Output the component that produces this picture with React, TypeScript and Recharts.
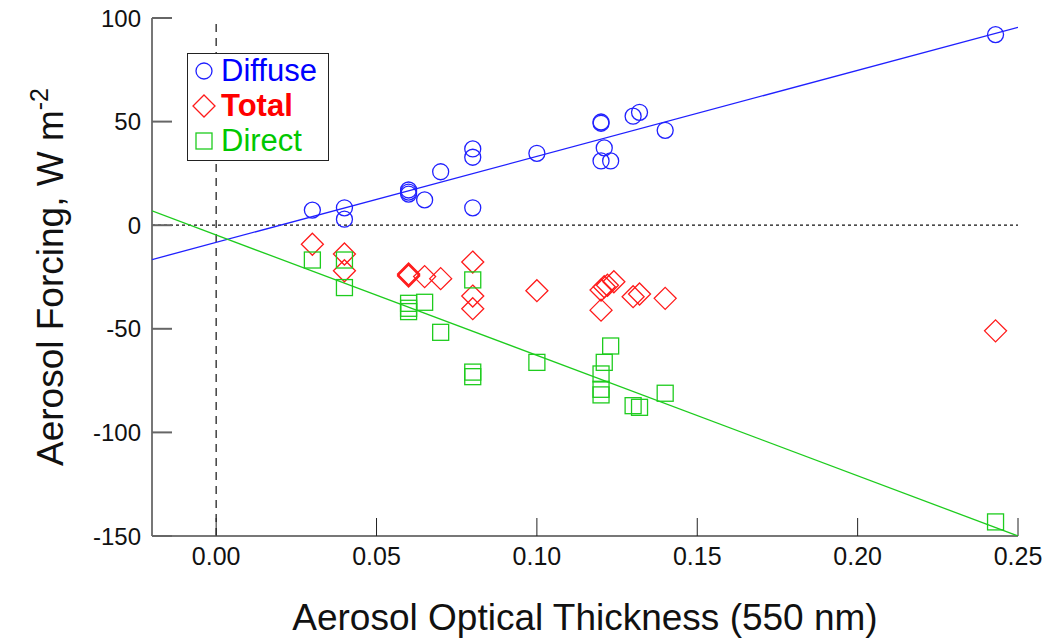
import React from "react";
import { ScatterChart, Scatter, XAxis, YAxis, ReferenceLine, Label } from "recharts";

// aerosol optical thickness at 550 nm, per series
const diffuseAot = [0.03, 0.04, 0.04, 0.06, 0.06, 0.06, 0.065, 0.07, 0.08, 0.08, 0.08, 0.1, 0.12, 0.12, 0.121, 0.12, 0.123, 0.13, 0.132, 0.14, 0.243];
const diffuseForcing = [7.3, 8.4, 2.9, 17, 16, 15, 12.2, 25.8, 36.8, 32.8, 8.4, 34.7, 49.8, 49.2, 37.3, 31, 31, 52.6, 54.5, 45.8, 92];

const totalAot = [0.03, 0.04, 0.04, 0.06, 0.06, 0.06, 0.065, 0.07, 0.08, 0.08, 0.08, 0.1, 0.12, 0.121, 0.122, 0.124, 0.12, 0.13, 0.132, 0.14, 0.243];
const totalForcing = [-9.2, -13.9, -22, -23.5, -24, -24.5, -24.8, -25.8, -17.8, -34.2, -40.3, -31.6, -31.3, -29.7, -29, -27.3, -41, -34.5, -33.2, -35.3, -51];

const directAot = [0.03, 0.04, 0.04, 0.06, 0.06, 0.06, 0.065, 0.07, 0.08, 0.08, 0.08, 0.1, 0.123, 0.121, 0.12, 0.12, 0.12, 0.13, 0.132, 0.14, 0.243];
const directForcing = [-16.8, -16.8, -30.1, -37.7, -40.1, -41.7, -37.2, -51.7, -26.4, -70.9, -73.1, -66.2, -58.3, -66.2, -71.8, -79.2, -81.9, -87.1, -87.9, -81.1, -143.2];

// linear fits, end points at the axis limits
const fitAot = [-0.02, 0.25];
const diffuseFit = [-16.6, 95.5];
const directFit = [6.9, -150];

const xTicks = [0, 0.05, 0.1, 0.15, 0.2, 0.25];
const yTicks = [-150, -100, -50, 0, 50, 100];

const BLUE = "#2020ff";
const RED = "#ff1a1a";
const GREEN = "#1ecc1e";

const toPoints = (xs: number[], ys: number[]) => xs.map((x, i) => ({ x, y: ys[i] }));

function CircleMark(props: any) {
  const { cx, cy } = props;
  return <circle cx={cx} cy={cy} r={8} fill="none" stroke={BLUE} strokeWidth={1.3} />;
}

function DiamondMark(props: any) {
  const { cx, cy } = props;
  const d = 11;
  return (
    <path
      d={`M${cx},${cy - d}L${cx + d},${cy}L${cx},${cy + d}L${cx - d},${cy}Z`}
      fill="none"
      stroke={RED}
      strokeWidth={1.3}
    />
  );
}

function SquareMark(props: any) {
  const { cx, cy } = props;
  return <rect x={cx - 8} y={cy - 8} width={16} height={16} fill="none" stroke={GREEN} strokeWidth={1.3} />;
}

const NoMark = () => <g />;

const font = "'Liberation Sans', Arial, Helvetica, sans-serif";

function LegendBox() {
  const row = { display: "flex", alignItems: "center", height: 35 } as const;
  const text = { fontFamily: font, fontSize: 31, lineHeight: "35px" };
  return (
    <div
      style={{
        position: "absolute",
        left: 187,
        top: 53,
        width: 142,
        height: 108,
        border: "1.5px solid #222",
        background: "#fff",
        paddingTop: 1,
        boxSizing: "border-box",
      }}
    >
      <div style={{ ...row, marginTop: -2 }}>
        <svg width={33} height={20}>
          <circle cx={16} cy={10} r={8} fill="none" stroke={BLUE} strokeWidth={1.3} />
        </svg>
        <span style={{ ...text, color: "#0000ff" }}>Diffuse</span>
      </div>
      <div style={row}>
        <svg width={33} height={24}>
          <path d="M16,1L27,12L16,23L5,12Z" fill="none" stroke={RED} strokeWidth={1.3} />
        </svg>
        <span style={{ ...text, color: "#ff0000", fontWeight: "bold" }}>Total</span>
      </div>
      <div style={row}>
        <svg width={33} height={20}>
          <rect x={8} y={2} width={16} height={16} fill="none" stroke={GREEN} strokeWidth={1.3} />
        </svg>
        <span style={{ ...text, color: "#00c800" }}>Direct</span>
      </div>
    </div>
  );
}

export default function App() {
  return (
    <div style={{ position: "absolute", left: 0, top: 0, width: 1055, height: 639, background: "#fff" }}>
      <ScatterChart width={1055} height={639} margin={{ top: 18, right: 37, bottom: 0, left: 0 }}>
        <XAxis
          type="number"
          dataKey="x"
          domain={[-0.02, 0.25]}
          ticks={xTicks}
          allowDataOverflow
          height={103}
          tickSize={-18}
          tickMargin={29}
          tickFormatter={(v: number) => v.toFixed(2)}
          tick={{ fontSize: 25, fill: "#111", fontFamily: font }}
          axisLine={{ stroke: "#777", strokeWidth: 2 }}
          tickLine={{ stroke: "#222" }}
        >
          <Label
            content={({ viewBox }: any) => (
              <text
                x={viewBox.x + viewBox.width / 2}
                y={viewBox.y + 94}
                textAnchor="middle"
                fontSize={37}
                fontFamily={font}
                fill="#111"
              >
                Aerosol Optical Thickness (550 nm)
              </text>
            )}
          />
        </XAxis>
        <XAxis
          xAxisId="top"
          orientation="top"
          type="number"
          domain={[-0.02, 0.25]}
          ticks={xTicks}
          allowDataOverflow
          height={0}
          tickSize={-18}
          tick={false}
          axisLine={{ stroke: "#111", strokeWidth: 2 }}
          tickLine={{ stroke: "#222" }}
        />
        <YAxis
          type="number"
          dataKey="y"
          domain={[-150, 100]}
          ticks={yTicks}
          allowDataOverflow
          width={152}
          tickSize={-20}
          tickMargin={31}
          tick={{ fontSize: 24, fill: "#111", fontFamily: font }}
          axisLine={{ stroke: "#777", strokeWidth: 2 }}
          tickLine={{ stroke: "#666", strokeWidth: 2 }}
        >
          <Label
            content={({ viewBox }: any) => {
              const cx = 63;
              const cy = viewBox.y + viewBox.height / 2;
              return (
                <text
                  x={cx}
                  y={cy}
                  transform={`rotate(-90, ${cx}, ${cy})`}
                  textAnchor="middle"
                  fontSize={37}
                  fontFamily={font}
                  fill="#111"
                >
                  Aerosol Forcing, W m
                  <tspan dy={-15} fontSize={25}>
                    -2
                  </tspan>
                </text>
              );
            }}
          />
        </YAxis>
        <YAxis
          yAxisId="right"
          orientation="right"
          type="number"
          domain={[-150, 100]}
          ticks={yTicks}
          allowDataOverflow
          width={0}
          tickSize={-18}
          tick={false}
          axisLine={{ stroke: "#111", strokeWidth: 2 }}
          tickLine={{ stroke: "#555", strokeWidth: 2 }}
        />
        <ReferenceLine y={0} stroke="#111" strokeDasharray="3 3" strokeWidth={1.2} />
        <ReferenceLine x={0} stroke="#111" strokeDasharray="8 6" strokeWidth={1.2} />
        <Scatter
          data={toPoints(fitAot, diffuseFit)}
          line={{ stroke: BLUE, strokeWidth: 1.3 }}
          shape={NoMark}
          isAnimationActive={false}
        />
        <Scatter
          data={toPoints(fitAot, directFit)}
          line={{ stroke: GREEN, strokeWidth: 1.3 }}
          shape={NoMark}
          isAnimationActive={false}
        />
        <Scatter data={toPoints(diffuseAot, diffuseForcing)} shape={CircleMark} isAnimationActive={false} />
        <Scatter data={toPoints(totalAot, totalForcing)} shape={DiamondMark} isAnimationActive={false} />
        <Scatter data={toPoints(directAot, directForcing)} shape={SquareMark} isAnimationActive={false} />
      </ScatterChart>
      <LegendBox />
    </div>
  );
}
